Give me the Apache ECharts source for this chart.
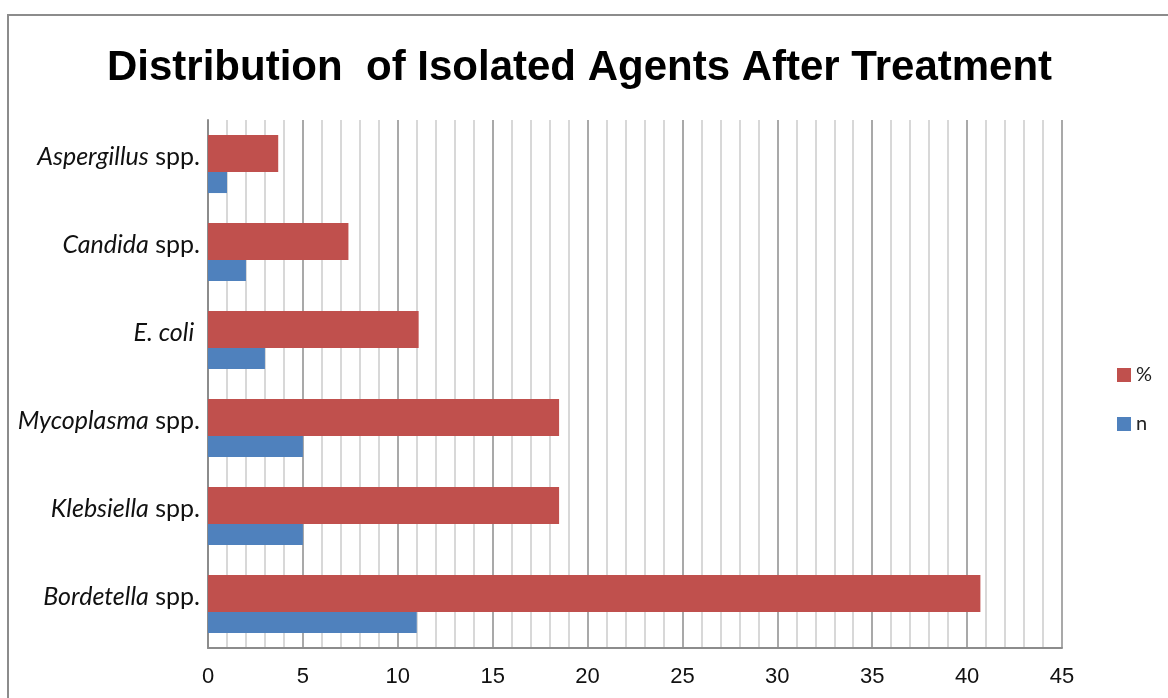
<!DOCTYPE html>
<html>
<head>
<meta charset="utf-8">
<script src="https://cdn.jsdelivr.net/npm/echarts@6/dist/echarts.min.js"></script>
<style>
  html, body { margin: 0; padding: 0; background: #fff; }
  #chart { width: 1168px; height: 698px; }
</style>
</head>
<body>
<div id="chart"></div>
<script>
// categories bottom-to-top (category axis starts at the bottom)
const categories = ['Bordetella spp.', 'Klebsiella spp.', 'Mycoplasma spp.', 'E. coli', 'Candida spp.', 'Aspergillus spp.']
const countValues = [11, 5, 5, 3, 2, 1]
const percentValues = [40.7, 18.5, 18.5, 11.1, 7.4, 3.7]
const xTicks = [0, 5, 10, 15, 20, 25, 30, 35, 40, 45]

const chart = echarts.init(document.getElementById('chart'))

// genus italic, "spp." upright
const labelFormatter = (name) => {
  const i = name.indexOf(' spp.')
  if (i < 0) return '{i|' + name + ' }'
  return '{i|' + name.slice(0, i) + '}{r| spp.}'
}

const option = {
  animation: false,
  backgroundColor: '#fff',
  graphic: [
    {
      type: 'rect',
      shape: { x: 8, y: 15, width: 1400, height: 1000 },
      style: { fill: 'none', stroke: '#8c8c8c', lineWidth: 2 },
      silent: true
    }
  ],
  title: {
    text: 'Distribution  of Isolated Agents After Treatment',
    left: 102,
    top: 42,
    textStyle: {
      fontFamily: 'Liberation Sans',
      fontWeight: 'bold',
      fontSize: 42,
      color: '#000'
    }
  },
  legend: {
    data: ['%', 'n'],
    orient: 'vertical',
    left: 1112,
    top: 360,
    icon: 'rect',
    itemWidth: 14,
    itemHeight: 14,
    itemGap: 29,
    textStyle: { fontFamily: 'Lato', fontSize: 20, color: '#222', lineHeight: 14 }
  },
  grid: {
    left: 208,
    right: 106,
    top: 120,
    bottom: 50
  },
  xAxis: {
    type: 'value',
    min: xTicks[0],
    max: xTicks[xTicks.length - 1],
    interval: 5,
    axisLine: { show: true, lineStyle: { color: '#8c8c8c', width: 2 } },
    axisTick: { show: false },
    axisLabel: {
      margin: 18,
      fontFamily: 'Liberation Sans',
      fontSize: 22,
      color: '#111'
    },
    splitLine: { show: true, lineStyle: { color: '#8c8c8c', width: 1.5 } },
    minorTick: { show: false, splitNumber: 5 },
    minorSplitLine: { show: true, lineStyle: { color: '#cccccc', width: 1.5 } }
  },
  yAxis: {
    type: 'category',
    data: categories,
    axisLine: { show: true, lineStyle: { color: '#8c8c8c', width: 2 } },
    axisTick: { show: false },
    axisLabel: {
      margin: 8,
      padding: [0, 0, 14, 0],
      formatter: labelFormatter,
      rich: {
        i: { fontFamily: 'Lato', fontStyle: 'italic', fontSize: 25, color: '#111' },
        r: { fontFamily: 'Lato', fontSize: 25, color: '#111' }
      }
    }
  },
  series: [
    {
      name: '%',
      type: 'bar',
      data: percentValues,
      barWidth: 37,
      barGap: '-43%',
      z: 3,
      itemStyle: { color: '#C0504D' }
    },
    {
      name: 'n',
      type: 'bar',
      data: countValues,
      barWidth: 37,
      barGap: '-43%',
      z: 2,
      itemStyle: { color: '#4F81BD' }
    }
  ]
}

chart.setOption(option)
</script>
</body>
</html>
